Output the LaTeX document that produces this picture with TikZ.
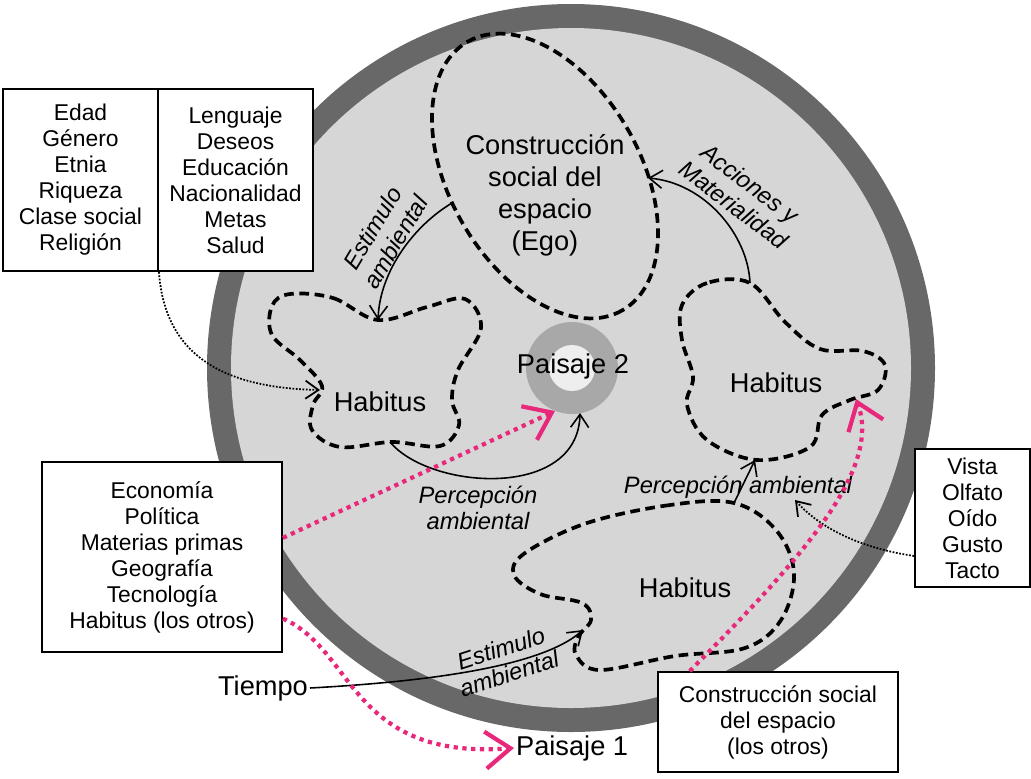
\documentclass[tikz,border=0pt]{standalone}
\usepackage{fontspec}
\setmainfont{Liberation Sans}
\usepackage{tikz}
\usetikzlibrary{arrows.meta}

\definecolor{anillo}{RGB}{104,104,104}
\definecolor{fondo}{RGB}{214,214,214}
\definecolor{anillopai}{RGB}{168,168,168}
\definecolor{nucleopai}{RGB}{238,238,238}
\definecolor{rosa}{RGB}{232,40,122}

\tikzset{
  caja/.style={draw,fill=white,line width=1.1pt,inner sep=0pt,align=center,font=\fontsize{13}{14.8}\selectfont},
  grande/.style={inner sep=1pt,align=center,font=\fontsize{15.5}{18.2}\selectfont},
  etiq/.style={inner sep=1pt,align=center,font=\fontsize{13.5}{15.2}\selectfont\itshape},
  zona/.style={line width=2.1pt,dash pattern=on 5.5pt off 3.2pt},
  flecha/.style={line width=0.9pt,-{Straight Barb[length=2.6mm,width=3.6mm]}},
  punteada/.style={line width=1pt,dash pattern=on 1pt off 0.9pt,-{Straight Barb[length=2.6mm,width=3.6mm]}},
  rosada/.style={draw=rosa,line width=2.4pt,dash pattern=on 2.4pt off 2.6pt,-{Straight Barb[length=5mm,width=7.4mm]}}
}

\begin{document}
\begin{tikzpicture}[x=0.02cm,y=-0.02cm]
\useasboundingbox (0,0) rectangle (1031,778);
% circulo grande
\coordinate (centro) at (571,368);
\fill[anillo] (centro) circle [radius=364];
\fill[fondo] (centro) circle [radius=340];
% paisaje 2
\coordinate (p2) at (572,368);
\fill[anillopai] (p2) circle [radius=46];
\fill[nucleopai] (p2) circle [radius=23];
% zonas punteadas
\draw[zona,rotate around={-60:(545,176)}] (545,176) ellipse [x radius=155,y radius=95];
\draw[zona] plot[smooth cycle,tension=0.6] coordinates {(290,294) (333,298) (378,320) (427,307) (465,299) (481,328) (458,370) (452,400) (459,425) (440,446) (392,442) (340,447) (312,430) (313,405) (322,386) (300,360) (272,335) (272,306)};
\draw[zona] plot[smooth cycle,tension=0.6] coordinates {(750,283) (707,283) (682,305) (682,340) (693,377) (687,405) (707,440) (757,460) (810,447) (822,415) (850,400) (878,390) (885,365) (863,351) (820,349) (785,322)};
\draw[zona] plot[smooth cycle,tension=0.6] coordinates {(734,503) (670,505) (587,523) (525,553) (514,575) (540,594) (582,603) (591,620) (578,637) (576,655) (600,670) (675,656) (745,648) (781,620) (794,573) (776,530)};
\coordinate (egoizq) at (452,203);
\coordinate (egoder) at (648,178);
\coordinate (habAsup) at (378,320);
\coordinate (habAizq) at (320,390);
\coordinate (habAinf) at (390,442);
\coordinate (habBsup) at (750,283);
\coordinate (habBinf) at (755,460);
\coordinate (habBmuesca) at (856,399);
\coordinate (habCsup) at (734,503);
\coordinate (habCcint) at (583,630);
\coordinate (p2sur) at (580,413);
\coordinate (p2so) at (555,411);
\coordinate (sentidos) at (795,500);

% textos del circulo
\node (ego) [grande] at (545,195) {Construcción\\social del\\espacio\\(Ego)};
\node (habA) [grande] at (380,402) {Habitus};
\node (habB) [grande] at (776,383) {Habitus};
\node (habC) [grande] at (685,588) {Habitus};
\node (paisaje2) [grande] at (573,366) {Paisaje 2};
\node (estimA) [etiq,rotate=59] at (384,235) {Estimulo\\ambiental};
\node (acciones) [etiq,rotate=-37] at (742,194) {Acciones y\\Materialidad};
\node (percA) [etiq] at (478,508) {Percepción\\ambiental};
\node (percB) [etiq] at (738,487) {Percepción ambiental};
\node (estimB) [etiq,rotate=18] at (505,661) {Estimulo\\ambiental};

% cajas
\node (rasgos) [caja,minimum width=3.1cm,minimum height=3.64cm] at (80.5,180) {Edad\\Género\\Etnia\\Riqueza\\Clase social\\Religión};
\node (deseos) [caja,minimum width=3.1cm,minimum height=3.64cm] at (235.5,180) {Lenguaje\\Deseos\\Educación\\Nacionalidad\\Metas\\Salud};
\node (econ) [caja,minimum width=4.8cm,minimum height=3.8cm] at (162,557) {Economía\\Política\\Materias primas\\Geografía\\Tecnología\\Habitus (los otros)};
\node (vista) [caja,minimum width=2.3cm,minimum height=2.76cm] at (972.5,518) {Vista\\Olfato\\Oído\\Gusto\\Tacto};
\node (otros) [caja,minimum width=4.8cm,minimum height=2cm] at (778,722) {Construcción social\\del espacio\\(los otros)};
\node (tiempo) [grande] at (263,688) {Tiempo};
\node (paisaje1) [grande,anchor=west] at (514,748) {Paisaje 1};

% flechas
\draw[flecha] (egoizq) .. controls (415,225) and (380,270) .. (habAsup);
\draw[flecha] (habBsup) .. controls (748,235) and (705,183) .. (egoder);
\draw[flecha] (habAinf) .. controls (430,490) and (578,500) .. (p2sur);
\draw[flecha] (habCsup) -- (habBinf);
\draw[flecha] (tiempo.east) .. controls (420,682) and (540,668) .. (habCcint);
\draw[punteada] (rasgos.south east) .. controls (165,360) and (230,388) .. (habAizq);
\draw[punteada] (vista.213) .. controls (860,548) and (820,528) .. (sentidos);
\draw[rosada] (econ.9) -- (p2so);
\draw[rosada] (econ.333) .. controls (355,650) and (350,760) .. (paisaje1.west);
\draw[rosada] (otros.150) .. controls (800,560) and (882,470) .. (habBmuesca);
\end{tikzpicture}
\end{document}
